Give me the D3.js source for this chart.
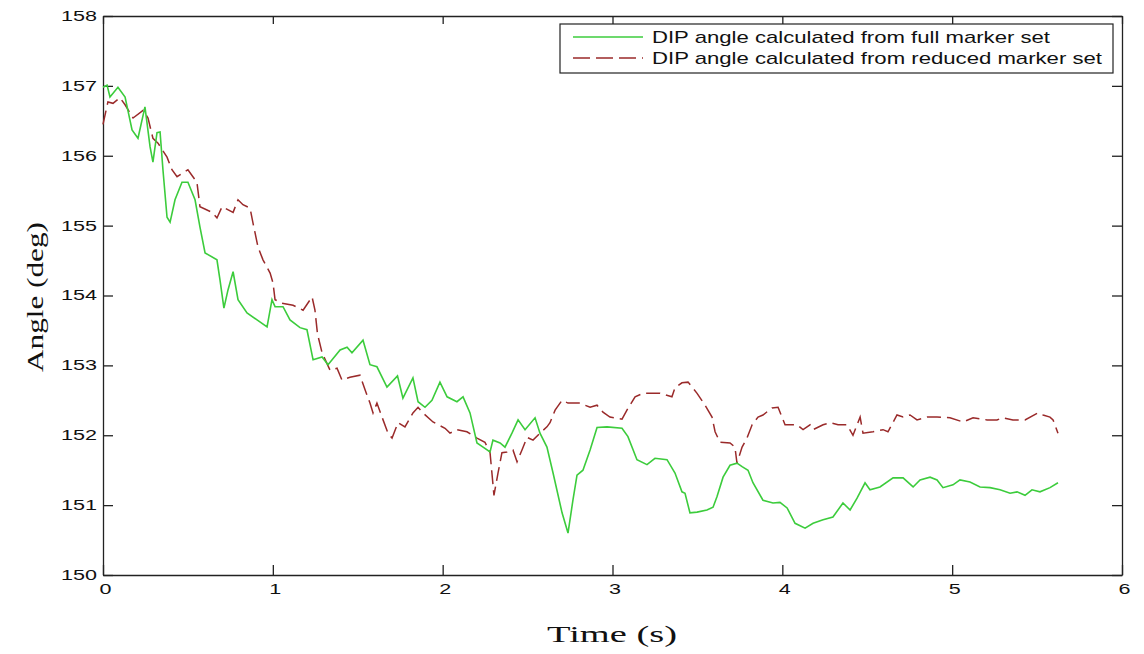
<!DOCTYPE html>
<html>
<head>
<meta charset="utf-8">
<script src="https://cdn.jsdelivr.net/npm/d3@7"></script>
<style>
body { margin: 0; background: #fff; }
</style>
</head>
<body>
<svg id="chart" width="1144" height="654"></svg>
<script>
"use strict";

var xTicks = [0, 1, 2, 3, 4, 5, 6];
var yTicks = [150, 151, 152, 153, 154, 155, 156, 157, 158];
var legendLabels = ["DIP angle calculated from full marker set", "DIP angle calculated from reduced marker set"];

// full marker set (green, solid)
var timeFull = [0.000, 0.024, 0.041, 0.088, 0.130, 0.171, 0.206, 0.247, 0.277, 0.294, 0.318, 0.336, 0.353, 0.377, 0.395,
	0.424, 0.465, 0.500, 0.542, 0.571, 0.601, 0.671, 0.689, 0.712, 0.736, 0.766, 0.795, 0.848, 0.907, 0.966, 0.995, 1.013,
	1.060, 1.101, 1.160, 1.201, 1.237, 1.290, 1.325, 1.396, 1.437, 1.466, 1.531, 1.572, 1.613, 1.672, 1.734, 1.766, 1.825,
	1.855, 1.896, 1.937, 1.984, 2.026, 2.084, 2.120, 2.161, 2.202, 2.238, 2.279, 2.296, 2.338, 2.367, 2.408, 2.444, 2.485,
	2.544, 2.573, 2.614, 2.650, 2.703, 2.738, 2.767, 2.791, 2.826, 2.868, 2.909, 2.968, 3.056, 3.091, 3.144, 3.203, 3.250,
	3.321, 3.368, 3.409, 3.427, 3.456, 3.498, 3.556, 3.592, 3.615, 3.651, 3.692, 3.733, 3.763, 3.798, 3.827, 3.886, 3.945,
	3.986, 4.028, 4.075, 4.134, 4.181, 4.240, 4.298, 4.357, 4.399, 4.440, 4.487, 4.516, 4.575, 4.652, 4.711, 4.770, 4.811,
	4.870, 4.911, 4.946, 5.005, 5.046, 5.105, 5.164, 5.223, 5.282, 5.341, 5.382, 5.429, 5.470, 5.517, 5.576, 5.623];
var angleFull = [156.98, 157.01, 156.84, 156.98, 156.84, 156.37, 156.25, 156.70, 156.13, 155.91, 156.33, 156.34, 155.80, 155.12, 155.05,
	155.37, 155.62, 155.62, 155.37, 154.98, 154.61, 154.51, 154.22, 153.82, 154.08, 154.34, 153.94, 153.75, 153.65, 153.55, 153.94, 153.84,
	153.84, 153.65, 153.54, 153.51, 153.08, 153.12, 153.01, 153.22, 153.26, 153.18, 153.36, 153.01, 152.98, 152.69, 152.85, 152.53, 152.82,
	152.48, 152.40, 152.50, 152.76, 152.55, 152.48, 152.55, 152.32, 151.89, 151.83, 151.76, 151.93, 151.89, 151.83, 152.03, 152.22, 152.08,
	152.25, 152.03, 151.83, 151.46, 150.89, 150.60, 151.07, 151.43, 151.50, 151.79, 152.11, 152.12, 152.10, 151.98, 151.65, 151.58, 151.67,
	151.65, 151.46, 151.19, 151.17, 150.89, 150.90, 150.93, 150.97, 151.12, 151.40, 151.57, 151.60, 151.55, 151.50, 151.32, 151.07, 151.03,
	151.04, 150.96, 150.74, 150.67, 150.74, 150.79, 150.83, 151.03, 150.93, 151.10, 151.32, 151.22, 151.26, 151.39, 151.39, 151.26, 151.36,
	151.40, 151.36, 151.25, 151.29, 151.36, 151.33, 151.26, 151.25, 151.22, 151.17, 151.19, 151.14, 151.22, 151.19, 151.25, 151.32];

// reduced marker set (red, dashed)
var timeReduced = [0.000, 0.029, 0.059, 0.100, 0.130, 0.177, 0.236, 0.265, 0.294, 0.324, 0.377, 0.406, 0.436, 0.500, 0.553,
	0.571, 0.642, 0.671, 0.701, 0.766, 0.795, 0.824, 0.866, 0.883, 0.913, 0.942, 0.984, 1.001, 1.013, 1.054, 1.119, 1.178,
	1.231, 1.248, 1.263, 1.290, 1.337, 1.378, 1.407, 1.454, 1.513, 1.543, 1.572, 1.590, 1.613, 1.649, 1.678, 1.702, 1.737,
	1.778, 1.825, 1.855, 1.884, 1.943, 2.014, 2.043, 2.084, 2.143, 2.202, 2.249, 2.279, 2.290, 2.302, 2.326, 2.349, 2.379,
	2.414, 2.438, 2.467, 2.497, 2.532, 2.573, 2.614, 2.632, 2.662, 2.703, 2.738, 2.809, 2.868, 2.909, 2.944, 2.985, 3.056,
	3.085, 3.133, 3.180, 3.233, 3.280, 3.350, 3.368, 3.409, 3.445, 3.498, 3.545, 3.586, 3.604, 3.633, 3.692, 3.721, 3.733,
	3.763, 3.792, 3.822, 3.857, 3.886, 3.939, 3.975, 3.998, 4.016, 4.086, 4.122, 4.163, 4.181, 4.240, 4.281, 4.328, 4.381,
	4.416, 4.458, 4.475, 4.534, 4.593, 4.622, 4.675, 4.711, 4.752, 4.793, 4.852, 4.911, 4.987, 5.064, 5.123, 5.205, 5.264,
	5.299, 5.358, 5.429, 5.505, 5.535, 5.576, 5.594, 5.623];
var angleReduced = [156.45, 156.77, 156.75, 156.83, 156.73, 156.54, 156.65, 156.54, 156.25, 156.18, 155.98, 155.80, 155.70, 155.80, 155.62,
	155.27, 155.19, 155.11, 155.27, 155.19, 155.37, 155.30, 155.25, 155.04, 154.69, 154.51, 154.32, 154.18, 153.94, 153.89, 153.86, 153.79,
	153.98, 153.79, 153.45, 153.18, 152.93, 152.96, 152.79, 152.83, 152.86, 152.65, 152.46, 152.32, 152.46, 152.22, 152.03, 151.96, 152.18,
	152.12, 152.32, 152.40, 152.32, 152.19, 152.10, 152.03, 152.08, 152.05, 151.96, 151.90, 151.75, 151.46, 151.14, 151.46, 151.75, 151.76,
	151.79, 151.62, 151.79, 151.97, 151.93, 152.03, 152.12, 152.18, 152.36, 152.50, 152.46, 152.46, 152.40, 152.43, 152.33, 152.26, 152.23,
	152.36, 152.55, 152.60, 152.60, 152.60, 152.55, 152.68, 152.75, 152.76, 152.60, 152.43, 152.26, 152.05, 151.90, 151.89, 151.83, 151.60,
	151.83, 151.96, 152.15, 152.26, 152.29, 152.39, 152.40, 152.26, 152.15, 152.15, 152.08, 152.15, 152.08, 152.15, 152.18, 152.15, 152.15,
	152.00, 152.26, 152.03, 152.05, 152.08, 152.05, 152.29, 152.26, 152.29, 152.22, 152.26, 152.26, 152.25, 152.19, 152.25, 152.22, 152.22,
	152.25, 152.22, 152.22, 152.32, 152.29, 152.26, 152.22, 152.03];

var plotLeft = 103, plotRight = 1122, plotTop = 16, plotBottom = 575;
var svg = d3.select("#chart");

var x = d3.scaleLinear().domain([0, 6]).range([plotLeft, plotRight]);
var y = d3.scaleLinear().domain([150, 158]).range([plotBottom, plotTop]);

// axes: ticks point inward, box on all four sides
function styleAxis(g) {
	g.select(".domain").attr("stroke", "#222").attr("stroke-width", 1.3);
	g.selectAll(".tick line").attr("stroke", "#222").attr("stroke-width", 1.3);
}

svg.append("g")
	.attr("transform", "translate(0," + plotBottom + ")")
	.call(d3.axisBottom(x).tickValues(xTicks).tickFormat(d3.format("d"))
		.tickSizeInner(-10).tickSizeOuter(0).tickPadding(9))
	.call(styleAxis)
	.call(function(g) {
		g.selectAll(".tick text")
			.attr("x", 2)
			.attr("font-family", "Liberation Sans, Arial, sans-serif")
			.attr("font-size", 14)
			.attr("fill", "#111")
			.attr("textLength", 12)
			.attr("lengthAdjust", "spacingAndGlyphs");
	});

svg.append("g")
	.attr("transform", "translate(0," + plotTop + ")")
	.call(d3.axisTop(x).tickValues(xTicks).tickSizeInner(-8).tickSizeOuter(0).tickFormat(""))
	.call(styleAxis);

svg.append("g")
	.attr("transform", "translate(" + plotLeft + ",0)")
	.call(d3.axisLeft(y).tickValues(yTicks).tickFormat(d3.format("d"))
		.tickSizeInner(-10).tickSizeOuter(0).tickPadding(6))
	.call(styleAxis)
	.call(function(g) {
		g.selectAll(".tick text")
			.attr("font-family", "Liberation Sans, Arial, sans-serif")
			.attr("font-size", 14)
			.attr("fill", "#111")
			.attr("textLength", 36)
			.attr("lengthAdjust", "spacingAndGlyphs");
	});

svg.append("g")
	.attr("transform", "translate(" + plotRight + ",0)")
	.call(d3.axisRight(y).tickValues(yTicks).tickSizeInner(-10).tickSizeOuter(0).tickFormat(""))
	.call(styleAxis);

// curves
var fullPts = timeFull.map(function(t, i) { return [t, angleFull[i]]; });
var reducedPts = timeReduced.map(function(t, i) { return [t, angleReduced[i]]; });

var line = d3.line()
	.x(function(d) { return x(d[0]); })
	.y(function(d) { return y(d[1]); });

svg.append("path")
	.datum(reducedPts)
	.attr("d", line)
	.attr("fill", "none")
	.attr("stroke", "#9a2a2a")
	.attr("stroke-width", 1.5)
	.attr("stroke-dasharray", "14,6");

svg.append("path")
	.datum(fullPts)
	.attr("d", line)
	.attr("fill", "none")
	.attr("stroke", "#3ccc3c")
	.attr("stroke-width", 1.6);

// legend
var legend = svg.append("g");
legend.append("rect")
	.attr("x", 560).attr("y", 24)
	.attr("width", 553).attr("height", 49)
	.attr("fill", "#fff")
	.attr("stroke", "#222")
	.attr("stroke-width", 1.2);

var legendStyles = [
	{ color: "#3ccc3c", dash: null, len: 398 },
	{ color: "#9a2a2a", dash: "17,6", len: 450 }
];

legendLabels.forEach(function(label, i) {
	var ly = 37 + i * 21;
	legend.append("line")
		.attr("x1", 573).attr("x2", 643)
		.attr("y1", ly).attr("y2", ly)
		.attr("stroke", legendStyles[i].color)
		.attr("stroke-width", 1.5)
		.attr("stroke-dasharray", legendStyles[i].dash);
	legend.append("text")
		.attr("x", 652).attr("y", ly + 6)
		.attr("font-family", "Liberation Sans, Arial, sans-serif")
		.attr("font-size", 17)
		.attr("fill", "#111")
		.attr("textLength", legendStyles[i].len)
		.attr("lengthAdjust", "spacingAndGlyphs")
		.text(label);
});

// axis titles
svg.append("text")
	.attr("x", 612).attr("y", 642)
	.attr("text-anchor", "middle")
	.attr("font-family", "Liberation Serif, Times New Roman, serif")
	.attr("font-size", 24)
	.attr("fill", "#111")
	.attr("textLength", 130)
	.attr("lengthAdjust", "spacingAndGlyphs")
	.text("Time (s)");

svg.append("text")
	.attr("transform", "translate(43,297) rotate(-90)")
	.attr("text-anchor", "middle")
	.attr("font-family", "Liberation Serif, Times New Roman, serif")
	.attr("font-size", 24)
	.attr("fill", "#111")
	.attr("textLength", 150)
	.attr("lengthAdjust", "spacingAndGlyphs")
	.text("Angle (deg)");
</script>
</body>
</html>
